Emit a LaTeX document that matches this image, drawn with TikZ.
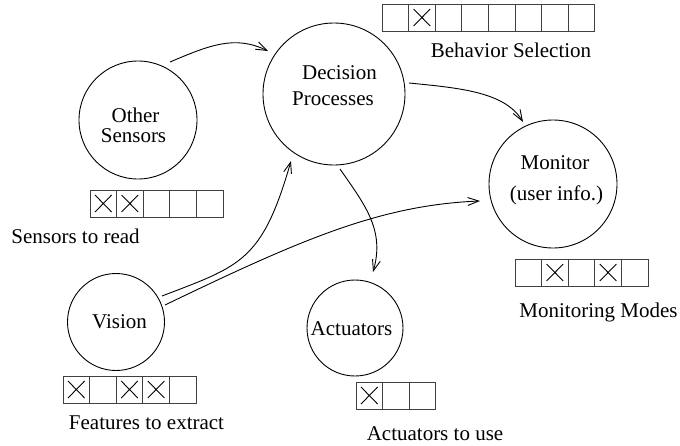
\documentclass[tikz,border=0pt]{standalone}
\usepackage{fontspec}
\setmainfont{Liberation Serif}
\usetikzlibrary{arrows.meta,calc}

% one row of selection cells: x, y (top-left), number of cells, crossed cells
\newcommand\cellrow[4]{%
  \foreach \i in {1,...,#3}{\draw[cellbox] ({#1+(\i-1)*26.6},#2) rectangle ++(26.6,27);}%
  \foreach \i in {#4}{%
    \draw[crossmark] ({#1+(\i-1)*26.6+5},{#2+5}) -- ++(16.6,17)
                     ({#1+(\i-1)*26.6+5},{#2+22}) -- ++(16.6,-17);}%
}

\tikzset{
  proc/.style={circle, draw, line width=0.9pt, inner sep=0pt},
  txt/.style={anchor=base, inner sep=0pt, font=\fontsize{21}{24}\selectfont},
  flow/.style={line width=0.9pt, -{Straight Barb[length=11pt,width=8pt]}},
  cellbox/.style={draw=black!75, line width=0.9pt},
  crossmark/.style={draw=black, line width=0.9pt}
}

\begin{document}
\begin{tikzpicture}[x=1pt,y=-1pt]
\useasboundingbox (0,0) rectangle (680,445);

% processes
\node[proc, minimum size=118pt] (os)  at (138,120) {};
\node[proc, minimum size=142pt] (dp)  at (334,94)  {};
\node[proc, minimum size=128pt] (mon) at (553,184) {};
\node[proc, minimum size=97pt]  (vis) at (116,322) {};
\node[proc, minimum size=96pt]  (act) at (355,328) {};

% process names
\node[txt] (os1)  at (135.5,122) {Other};
\node[txt] (os2)  at (133.5,142) {Sensors};
\node[txt] (dp1)  at (339.5,79)  {Decision};
\node[txt] (dp2)  at (333,105)   {Processes};
\node[txt] (mon1) at (555,169)   {Monitor};
\node[txt] (mon2) at (556.5,200) {(user info.)};
\node[txt] (vis1) at (119.5,328) {Vision};
\node[txt] (act1) at (351.5,335) {Actuators};

% selection rows and their captions
\cellrow{382}{4}{8}{2}
\node[txt] (bsel) at (511,57) {Behavior Selection};
\cellrow{90}{190}{5}{1,2}
\node[txt] (osel) at (75.5,243) {Sensors to read};
\cellrow{63}{376}{5}{1,3,4}
\node[txt] (vsel) at (146.5,429) {Features to extract};
\cellrow{356}{382}{3}{1}
\node[txt] (asel) at (435,440) {Actuators to use};
\cellrow{515}{259}{5}{2,4}
\node[txt] (msel) at (598.5,317) {Monitoring Modes};

% information flow
\draw[flow] ($(os)+(32,-58)$) .. controls (210,45) and (235,35) .. ($(dp)+(-66,-43)$);
\draw[flow] ($(dp)+(75,-11)$) .. controls (460,88) and (505,92) .. ($(mon)+(-30,-62)$);
\draw[flow] ($(dp)+(6,75)$) .. controls (365,205) and (385,230) .. ($(act)+(18,-56)$);
\draw[flow] ($(vis)+(46,-26)$) .. controls (240,266) and (262,262) .. ($(dp)+(-43,67)$);
\draw[flow] ($(vis)+(49,-17)$) .. controls (300,240) and (380,205) .. ($(mon)+(-73,17)$);
\end{tikzpicture}
\end{document}
